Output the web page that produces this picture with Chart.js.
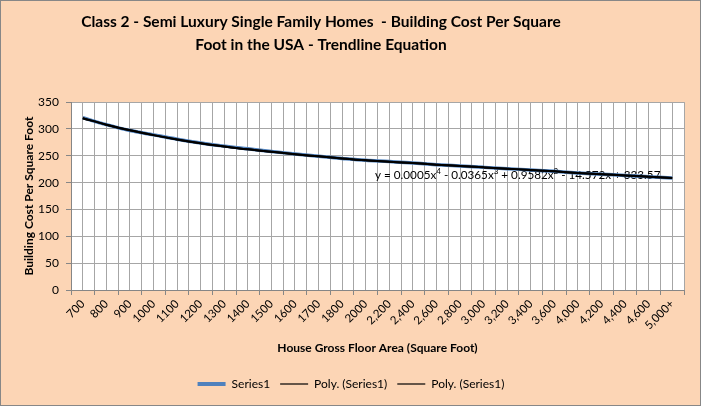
<!DOCTYPE html>
<html><head><meta charset="utf-8">
<script src="https://cdn.jsdelivr.net/npm/chart.js@4/dist/chart.umd.min.js"></script>
<style>
html,body{margin:0;padding:0;background:#fff;}
#wrap{position:relative;width:701px;height:406px;box-sizing:border-box;border:1px solid #878787;background:#FCD5B5;}
canvas{display:block;}
</style></head><body>
<div id="wrap"><canvas id="c" width="699" height="404"></canvas></div>
<script>
// ---- data ----
const categories = ['700','800','900','1000','1100','1200','1300','1400','1500','1600','1700','1800','2000',
  '2,200','2,400','2,600','2,800','3,000','3,200','3,400','3,600','4,000','4,200','4,400','4,600','5,000+'];
const series1 = [321, 308, 297, 289, 281, 274, 268, 263, 258, 253.5, 249, 245, 241.5,
  239.5, 236.5, 233.5, 231, 228.5, 226, 223.5, 221, 218, 215.5, 213.5, 211, 208.5];
const polyTrend = [320, 308, 297.5, 288.5, 280.5, 273.5, 267.5, 262, 257.5, 253, 249, 245, 241.5,
  239, 236.5, 233.5, 231, 228.5, 226, 223.5, 221, 218, 215.5, 213.5, 211, 208.5];
const yTicks = [0, 50, 100, 150, 200, 250, 300, 350];
const titleLines = ['Class 2 - Semi Luxury Single Family Homes  - Building Cost Per Square',
  'Foot in the USA - Trendline Equation'];
const xTitle = 'House Gross Floor Area (Square Foot)';
const yTitle = 'Building Cost Per Square Foot';
const seriesNames = ['Series1', 'Poly. (Series1)', 'Poly. (Series1)'];
// equation pieces: [text, isSuperscript]
const equationParts = [['y = 0.0005x',0],['4',1],[' - 0.0365x',0],['3',1],[' + 0.9582x',0],['2',1],[' - 14.572x + 333.57',0]];

const FONT = 'Lato';
const gridColor = '#A6A6A6';
const axisColor = '#868686';

const plotBg = {
  id: 'plotBg',
  beforeDraw(chart) {
    const {ctx, chartArea: a} = chart;
    ctx.save(); ctx.fillStyle = '#FFFFFF';
    ctx.fillRect(a.left, a.top, a.right - a.left, a.bottom - a.top);
    ctx.restore();
  }
};
const titleShift = {
  id: 'titleShift',
  afterLayout(chart) {
    if (chart.titleBlock) { chart.titleBlock.left = 0; chart.titleBlock.right = 640; }
  }
};
const equationLabel = {
  id: 'equationLabel',
  beforeDatasetsDraw(chart) {
    const {ctx, chartArea: a, scales} = chart;
    let x = a.left + 304;
    const y = scales.y.getPixelForValue(206);
    ctx.save();
    ctx.fillStyle = '#000';
    ctx.textBaseline = 'alphabetic';
    for (const [t, sup] of equationParts) {
      ctx.font = (sup ? '8px ' : '11.7px ') + FONT;
      ctx.fillText(t, x, sup ? y - 5.5 : y);
      x += ctx.measureText(t).width;
    }
    ctx.restore();
  }
};

new Chart(document.getElementById('c'), {
  type: 'line',
  data: {
    labels: categories,
    datasets: [
      {label: seriesNames[0], data: series1, borderColor: '#4F81BD', backgroundColor: '#4F81BD', borderWidth: 3.5,
       pointRadius: 0, cubicInterpolationMode: 'monotone', fill: false, order: 3},
      {label: seriesNames[1], data: polyTrend, borderColor: '#000000', backgroundColor: '#000000', borderWidth: 2,
       pointRadius: 0, cubicInterpolationMode: 'monotone', fill: false, order: 2},
      {label: seriesNames[2], data: polyTrend, borderColor: '#000000', backgroundColor: '#000000', borderWidth: 2,
       pointRadius: 0, cubicInterpolationMode: 'monotone', fill: false, order: 1}
    ]
  },
  options: {
    responsive: false,
    animation: false,
    devicePixelRatio: 1,
    layout: {padding: {left: 17, right: 16, top: 0, bottom: 5}},
    plugins: {
      tooltip: {enabled: false},
      title: {
        display: true, text: titleLines, color: '#000',
        font: {family: FONT, weight: 'bold', size: 15.5, lineHeight: 1.52},
        padding: {top: 9, bottom: 45}
      },
      legend: {
        position: 'bottom',
        labels: {
          usePointStyle: true, pointStyle: 'line', pointStyleWidth: 28,
          color: '#000', font: {family: FONT, size: 12}, padding: 10,
          sort: (a, b) => a.datasetIndex - b.datasetIndex,
          generateLabels(chart) {
            const items = Chart.defaults.plugins.legend.labels.generateLabels(chart);
            items.forEach(it => { it.pointStyle = 'line'; it.lineWidth = it.datasetIndex === 0 ? 4 : 1.2; });
            return items;
          }
        }
      }
    },
    scales: {
      x: {
        offset: true,
        grid: {offset: true, color: gridColor, tickLength: 5, tickColor: axisColor},
        border: {color: axisColor},
        ticks: {minRotation: 45, maxRotation: 45, autoSkip: false, color: '#000', font: {family: FONT, size: 11.5}, padding: 2},
        title: {display: true, text: xTitle, color: '#000', font: {family: FONT, weight: 'bold', size: 12}, padding: {top: 4, bottom: 13}},
        afterFit(s) { s.height = 78; }
      },
      x2: {
        position: 'top', offset: true,
        grid: {offset: false, color: gridColor, drawTicks: false},
        ticks: {display: false},
        border: {display: false}
      },
      y: {
        min: 0, max: 350,
        afterBuildTicks(s) { s.ticks = yTicks.map(v => ({value: v})); },
        grid: {color: gridColor, tickLength: 5, tickColor: axisColor},
        border: {color: axisColor},
        ticks: {color: '#000', font: {family: FONT, size: 12}, padding: 7},
        title: {display: true, text: yTitle, color: '#000', font: {family: FONT, weight: 'bold', size: 12}, padding: {top: 4, bottom: 4}},
        afterFit(s) { s.width = 53; }
      }
    }
  },
  plugins: [plotBg, titleShift, equationLabel]
});
</script>
</body></html>
